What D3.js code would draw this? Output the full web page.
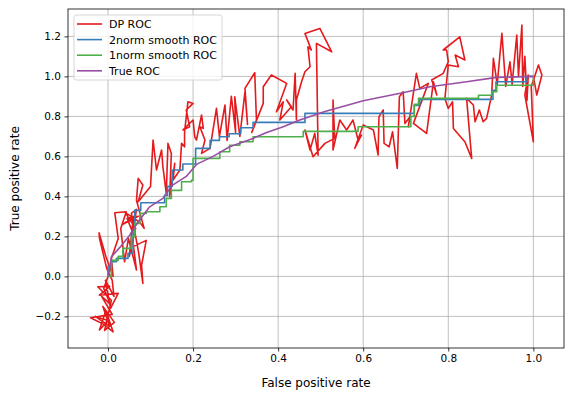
<!DOCTYPE html>
<html>
<head>
<meta charset="utf-8">
<script src="https://cdn.jsdelivr.net/npm/d3@7"></script>
<style>
  body { margin: 0; background: #fff; }
  text { font-family: "DejaVu Sans", sans-serif; fill: #000; }
</style>
</head>
<body>
<div id="chart-container"></div>
<script>
// Tick values
const xTicks = [0.0, 0.2, 0.4, 0.6, 0.8, 1.0];
const yTicks = [-0.2, 0.0, 0.2, 0.4, 0.6, 0.8, 1.0, 1.2];

// Series, [fpr, tpr]
const dpRoc = [
  [0.0,0.0],[-0.01,-0.06],[0.006,-0.14],[-0.015,-0.1],[0.01,-0.19],[-0.041,-0.207],[-0.01,-0.24],[0.012,-0.277],
  [-0.005,-0.17],[-0.02,-0.268],[0.0,-0.22],[-0.03,-0.2],[0.004,-0.25],[-0.012,-0.15],[0.015,-0.23],[-0.008,-0.27],
  [0.008,-0.12],[-0.024,-0.052],[0.004,-0.05],[-0.02,-0.094],[0.024,-0.085],[0.006,-0.16],[-0.006,-0.02],[0.014,-0.1],
  [0.01,-0.02],[-0.003,0.04],[-0.02,0.19],[-0.021,0.218],[-0.005,0.1],[0.012,0.0],[0.008,0.09],[0.024,0.19],
  [0.016,0.318],[0.043,0.323],[0.03,0.24],[0.039,0.073],[0.048,0.19],[0.067,0.032],[0.06,0.15],[0.09,0.18],
  [0.079,0.057],[0.082,-0.035],[0.072,0.12],[0.055,0.315],[0.067,0.335],[0.058,0.22],[0.045,0.29],[0.071,0.3],
  [0.035,0.26],[0.06,0.3],[0.05,0.1],[0.065,0.24],[0.04,0.32],[0.075,0.27],
  [0.085,0.24],[0.067,0.38],[0.071,0.49],[0.082,0.457],[0.071,0.373],[0.1,0.45],[0.106,0.682],[0.114,0.532],
  [0.126,0.632],[0.129,0.55],[0.137,0.415],[0.141,0.665],[0.149,0.615],[0.145,0.398],[0.157,0.565],[0.153,0.482],
  [0.169,0.532],[0.173,0.665],[0.18,0.648],[0.18,0.723],[0.188,0.873],[0.2,0.865],[0.184,0.832],[0.192,0.748],
  [0.176,0.732],[0.2,0.782],[0.204,0.698],[0.208,0.682],[0.22,0.807],[0.224,0.74],[0.216,0.748],[0.228,0.682],
  [0.22,0.615],[0.24,0.64],[0.255,0.84],[0.262,0.7],[0.275,0.857],[0.28,0.68],[0.29,0.9],[0.3,0.72],
  [0.298,0.898],[0.31,0.7],[0.322,0.923],[0.328,0.76],[0.322,0.94],[0.345,1.018],[0.349,0.782],[0.338,0.72],
  [0.365,0.865],[0.365,0.948],[0.384,1.007],[0.42,0.965],[0.396,0.823],[0.412,0.873],[0.404,0.782],[0.431,0.848],
  [0.42,0.882],[0.435,0.832],[0.44,1.015],[0.443,0.782],[0.443,0.882],[0.455,0.973],[0.463,1.023],[0.475,1.048],
  [0.47,1.148],[0.478,1.132],[0.463,1.215],[0.498,1.24],[0.526,1.123],[0.49,1.165],[0.494,0.606],[0.486,0.715],
  [0.475,0.632],[0.463,0.732],[0.482,0.598],[0.51,0.665],[0.533,0.69],[0.529,0.882],[0.529,0.632],[0.545,0.782],
  [0.561,0.732],[0.576,0.782],[0.588,0.682],[0.596,0.707],[0.58,0.64],[0.6,0.757],[0.624,0.732],[0.635,0.607],
  [0.637,0.798],[0.647,0.832],[0.649,0.665],[0.661,0.648],[0.669,0.723],[0.68,0.54],[0.685,0.898],[0.694,0.923],
  [0.698,0.765],[0.71,0.798],[0.706,0.748],[0.725,1.015],[0.733,0.94],[0.753,0.965],[0.718,0.765],[0.749,0.715],
  [0.765,0.973],[0.773,0.907],[0.761,0.982],[0.788,1.015],[0.8,1.073],[0.796,1.132],[0.788,1.132],[0.827,1.198],
  [0.839,1.082],[0.816,1.107],[0.824,1.048],[0.8,1.057],[0.792,0.89],[0.8,0.84],[0.81,0.873],[0.812,0.74],
  [0.839,0.673],[0.855,0.59],[0.843,0.89],[0.859,0.857],[0.863,0.773],[0.873,0.832],[0.882,0.773],[0.89,0.79],
  [0.902,0.907],[0.906,1.09],[0.915,0.96],[0.926,1.215],[0.935,0.95],[0.945,1.073],[0.95,0.96],[0.961,1.207],
  [0.965,1.0],[0.973,1.257],[0.975,0.95],[0.98,1.1],[0.985,0.88],[0.988,1.007],[0.98,0.907],[1.0,0.673],
  [0.995,0.95],[1.012,1.057],[1.02,1.007],[1.008,0.907],[1.0,1.0]
];

// step curves: each point = x where the step rises to the new y
const norm2Roc = [
  [0,0],[0,0.05],[0.008,0.073],[0.02,0.09],[0.047,0.115],[0.059,0.215],[0.063,0.33],[0.077,0.368],
  [0.133,0.405],[0.14,0.45],[0.151,0.532],[0.176,0.562],[0.206,0.64],[0.24,0.68],[0.262,0.698],[0.285,0.713],
  [0.312,0.743],[0.341,0.77],[0.463,0.815],[0.711,0.815],[0.72,0.855],[0.733,0.885],[0.905,0.93],[0.912,0.973],
  [0.985,1.0],[1.0,1.0]
];

const norm1Roc = [
  [0,0],[0.008,0.08],[0.024,0.1],[0.035,0.14],[0.055,0.2],[0.063,0.265],[0.075,0.315],[0.09,0.323],
  [0.122,0.348],[0.137,0.39],[0.149,0.43],[0.173,0.473],[0.196,0.48],[0.2,0.59],[0.263,0.623],[0.286,0.656],
  [0.31,0.673],[0.341,0.698],[0.459,0.725],[0.588,0.748],[0.712,0.8],[0.72,0.86],[0.73,0.89],[0.871,0.906],
  [0.902,0.923],[0.914,0.956],[1.0,1.0]
];

const trueRoc = [
  [0,0],[0.002,0.015],[0.008,0.098],[0.028,0.145],[0.051,0.206],[0.071,0.273],[0.098,0.348],[0.129,0.39],
  [0.151,0.455],[0.184,0.5],[0.208,0.56],[0.247,0.6],[0.286,0.648],[0.341,0.69],[0.373,0.72],[0.412,0.748],
  [0.451,0.782],[0.51,0.825],[0.6,0.878],[0.69,0.917],[0.757,0.948],[0.843,0.973],[0.914,0.995],[1.0,1.0]
];

const seriesNames = ["DP ROC", "2norm smooth ROC", "1norm smooth ROC", "True ROC"];
const seriesColors = ["#e41a1c", "#377eb8", "#4daf4a", "#984ea3"];

// Set the dimensions and margins of the graph
const margin = { top: 9, right: 10, bottom: 51, left: 68 };
const width = 574 - margin.left - margin.right;
const height = 399 - margin.top - margin.bottom;

const svg = d3
  .select("#chart-container")
  .append("svg")
  .attr("width", width + margin.left + margin.right)
  .attr("height", height + margin.top + margin.bottom)
  .append("g")
  .attr("transform", `translate(${margin.left},${margin.top})`);

const xScale = d3.scaleLinear().domain([-0.094, 1.072]).range([0, width]);
const yScale = d3.scaleLinear().domain([-0.358, 1.337]).range([height, 0]);

// grid
svg.append("g")
  .selectAll("line")
  .data(xTicks)
  .join("line")
  .attr("x1", (d) => xScale(d)).attr("x2", (d) => xScale(d))
  .attr("y1", 0).attr("y2", height)
  .attr("stroke", "#b0b0b0").attr("stroke-width", 0.8);
svg.append("g")
  .selectAll("line")
  .data(yTicks)
  .join("line")
  .attr("y1", (d) => yScale(d)).attr("y2", (d) => yScale(d))
  .attr("x1", 0).attr("x2", width)
  .attr("stroke", "#b0b0b0").attr("stroke-width", 0.8);

// clip
svg.append("defs").append("clipPath").attr("id", "clip")
  .append("rect").attr("width", width).attr("height", height);
const linesGroup = svg.append("g").attr("clip-path", "url(#clip)");

const line = d3.line().x((d) => xScale(d[0])).y((d) => yScale(d[1]));
const stepLine = d3.line().x((d) => xScale(d[0])).y((d) => yScale(d[1])).curve(d3.curveStepAfter);

const allSeries = [
  { data: dpRoc, gen: line },
  { data: norm2Roc, gen: stepLine },
  { data: norm1Roc, gen: stepLine },
  { data: trueRoc, gen: line },
];
allSeries.forEach((s, i) => {
  linesGroup.append("path")
    .datum(s.data)
    .attr("fill", "none")
    .attr("stroke", seriesColors[i])
    .attr("stroke-width", 1.6)
    .attr("stroke-linejoin", "round")
    .attr("d", s.gen);
});

// axes
const fmt = (d) => d3.format(".1f")(d).replace("-", "\u2212");
const xAxis = svg.append("g")
  .attr("transform", `translate(0,${height})`)
  .call(d3.axisBottom(xScale).tickValues(xTicks).tickFormat(fmt).tickSizeOuter(0).tickSize(3.5).tickPadding(3.5));
const yAxis = svg.append("g")
  .call(d3.axisLeft(yScale).tickValues(yTicks).tickFormat(fmt).tickSizeOuter(0).tickSize(3.5).tickPadding(3.5));
[xAxis, yAxis].forEach((g) => {
  g.select(".domain").remove();
  g.selectAll("line").attr("stroke", "#000").attr("stroke-width", 0.8);
  g.selectAll("text").attr("font-size", "10.5px").attr("font-family", "DejaVu Sans").attr("fill", "#000");
});

// frame
svg.append("rect")
  .attr("width", width).attr("height", height)
  .attr("fill", "none").attr("stroke", "#000").attr("stroke-width", 0.8);

// axis labels
svg.append("text")
  .attr("x", width / 2).attr("y", height + 38.5)
  .attr("text-anchor", "middle").attr("font-size", "12px")
  .text("False positive rate");
svg.append("text")
  .attr("transform", `translate(${19 - margin.left},${height / 2}) rotate(-90)`)
  .attr("text-anchor", "middle").attr("font-size", "12px")
  .text("True positive rate");

// legend
const legend = svg.append("g").attr("transform", "translate(6,6)");
legend.append("rect")
  .attr("width", 148).attr("height", 65).attr("rx", 2)
  .attr("fill", "#fff").attr("fill-opacity", 0.8)
  .attr("stroke", "#cccccc").attr("stroke-width", 0.8);
seriesNames.forEach((name, i) => {
  const yy = 9 + i * 15.6;
  legend.append("line")
    .attr("x1", 3).attr("x2", 28).attr("y1", yy).attr("y2", yy)
    .attr("stroke", seriesColors[i]).attr("stroke-width", 1.6);
  legend.append("text")
    .attr("x", 35).attr("y", yy + 4)
    .attr("font-size", "11px")
    .text(name);
});
</script>
</body>
</html>
